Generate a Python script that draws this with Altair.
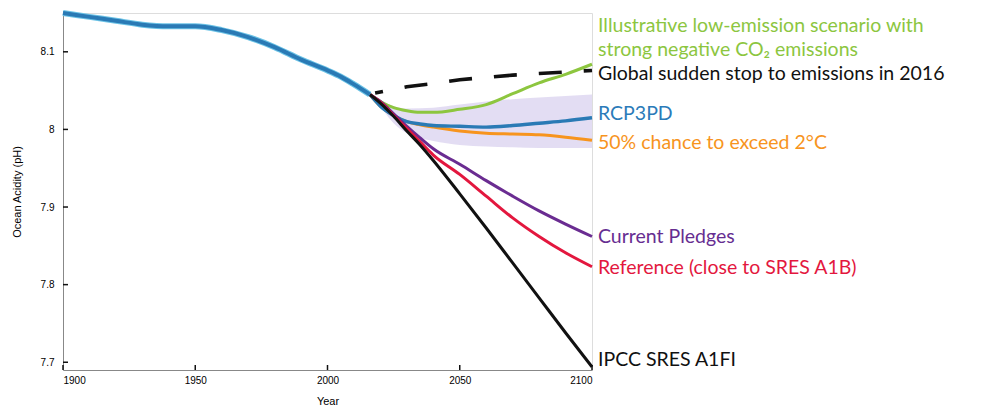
import altair as alt
import pandas as pd

# Observed surface-ocean pH, 1900-2016
hist_years = [1900, 1910, 1920, 1930, 1940, 1950, 1960, 1970, 1980, 1990, 2000, 2005, 2010, 2016]
hist_ph = [8.150, 8.145, 8.140, 8.135, 8.133, 8.133, 8.128, 8.119, 8.106, 8.090, 8.076, 8.068, 8.058, 8.045]

# Scenario projections, 2016-2100
proj_years = [2016, 2020, 2025, 2030, 2035, 2040, 2050, 2060, 2070, 2080, 2090, 2100]
low_emission = [8.045, 8.036, 8.028, 8.024, 8.022, 8.022, 8.026, 8.032, 8.046, 8.060, 8.071, 8.084]
rcp3pd = [8.045, 8.030, 8.018, 8.010, 8.007, 8.005, 8.004, 8.003, 8.005, 8.008, 8.011, 8.015]
exceed_2c = [8.045, 8.030, 8.018, 8.010, 8.006, 8.003, 7.998, 7.995, 7.994, 7.993, 7.990, 7.986]
pledges = [8.045, 8.036, 8.020, 8.004, 7.989, 7.975, 7.955, 7.934, 7.914, 7.895, 7.878, 7.862]
reference = [8.045, 8.035, 8.018, 8.001, 7.984, 7.967, 7.942, 7.914, 7.886, 7.862, 7.841, 7.823]
a1fi = [8.045, 8.034, 8.017, 7.998, 7.980, 7.960, 7.917, 7.873, 7.828, 7.783, 7.738, 7.694]

# Emissions stopped in 2016: committed change only
stop_years = [2018, 2030, 2040, 2050, 2060, 2070, 2080, 2090, 2100]
sudden_stop = [8.047, 8.055, 8.059, 8.064, 8.067, 8.070, 8.072, 8.074, 8.076]

# Uncertainty range around RCP3PD
band_years = [2018, 2025, 2030, 2040, 2050, 2060, 2070, 2080, 2090, 2100]
band_high = [8.040, 8.030, 8.027, 8.028, 8.032, 8.036, 8.039, 8.041, 8.043, 8.045]
band_low = [8.040, 8.008, 7.995, 7.985, 7.980, 7.978, 7.977, 7.976, 7.976, 7.976]

# Right-hand scenario labels
label_text = [
    "Illustrative low-emission scenario with",
    "strong negative CO₂ emissions",
    "Global sudden stop to emissions in 2016",
    "RCP3PD",
    "50% chance to exceed 2°C",
    "Current Pledges",
    "Reference (close to SRES A1B)",
    "IPCC SRES A1FI",
]
label_ph = [8.133, 8.1025, 8.072, 8.020, 7.982, 7.862, 7.821, 7.703]
label_color = ["#8cc63f", "#8cc63f", "#111111", "#2b7bb9", "#f7941d", "#662d91", "#e3173e", "#111111"]

x_ticks = [1900, 1950, 2000, 2050, 2100]
y_ticks = [7.7, 7.8, 7.9, 8.0, 8.1]

W, H = 529, 357
x_scale = alt.Scale(domain=[1900, 2100], nice=False, zero=False)
y_scale = alt.Scale(domain=[7.69, 8.15], nice=False, zero=False)

x_axis = alt.Axis(values=x_ticks, format="d", title="Year", tickSize=0, grid=False,
                  labelPadding=5, titlePadding=10, titleFontWeight="normal")
y_axis = alt.Axis(values=y_ticks, format=".1~f", title="Ocean Acidity (pH)", tickSize=0,
                  grid=False, labelPadding=9, titlePadding=18, titleFontWeight="normal")


def series_line(years, values, color, width=3.0, interp="monotone", **extra):
    df = pd.DataFrame({"year": years, "ph": values})
    return alt.Chart(df).mark_line(
        color=color, strokeWidth=width, interpolate=interp, strokeCap="butt", **extra
    ).encode(
        x=alt.X("year:Q", scale=x_scale, axis=x_axis),
        y=alt.Y("ph:Q", scale=y_scale, axis=y_axis),
    )


band = alt.Chart(pd.DataFrame({"year": band_years, "lo": band_low, "hi": band_high})).mark_area(
    color="#d9d2ef", opacity=0.75, interpolate="monotone"
).encode(
    x=alt.X("year:Q", scale=x_scale, axis=x_axis),
    y=alt.Y("lo:Q", scale=y_scale, axis=y_axis),
    y2="hi:Q",
)

layers = [
    band,
    series_line(proj_years, exceed_2c, "#f7941d"),
    series_line(proj_years, low_emission, "#8dc63f"),
    series_line(proj_years, rcp3pd, "#2a7ab5", 3.4),
    series_line(proj_years, pledges, "#6a2c91"),
    series_line(proj_years, reference, "#e3173e"),
    series_line(proj_years, a1fi, "#111111"),
    series_line(stop_years, sudden_stop, "#111111", 3.6, "linear",
                strokeDash=[23, 22], strokeDashOffset=15),
    series_line(hist_years, hist_ph, "#6cc3e6", 6.0),
    series_line(hist_years, hist_ph, "#2a7ab5", 4.0),
]

# Inward-pointing tick marks
x_tick_marks = alt.Chart(pd.DataFrame({"year": x_ticks})).mark_rule(color="#111111", strokeWidth=1.5).encode(
    x=alt.X("year:Q", scale=x_scale, axis=x_axis),
    y=alt.value(H),
    y2=alt.value(H - 5),
)
y_tick_marks = alt.Chart(pd.DataFrame({"ph": y_ticks})).mark_rule(color="#111111", strokeWidth=1.5).encode(
    y=alt.Y("ph:Q", scale=y_scale, axis=y_axis),
    x=alt.value(0),
    x2=alt.value(5),
)

labels = alt.Chart(pd.DataFrame({"text": label_text, "ph": label_ph, "color": label_color})).mark_text(
    align="left", baseline="middle", dx=6, font="Lato", fontSize=19.5
).encode(
    x=alt.datum(2100),
    y=alt.Y("ph:Q", scale=y_scale, axis=y_axis),
    text="text:N",
    color=alt.Color("color:N", scale=None),
)

chart = alt.layer(*layers, x_tick_marks, y_tick_marks, labels).properties(
    width=W,
    height=H,
    autosize=alt.AutoSizeParams(type="none"),
    padding={"left": 63, "top": 13, "right": 400, "bottom": 38},
).configure_view(stroke=None).configure_axis(
    domainColor="#111111",
    domainWidth=2,
    labelFont="Liberation Sans",
    labelFontSize=11,
    labelColor="#333333",
    titleFont="Liberation Sans",
    titleFontSize=11,
    titleFontWeight="normal",
    titleColor="#333333",
).configure(background="white")

chart.save("out.html", embed_options={"renderer": "svg", "actions": False})
